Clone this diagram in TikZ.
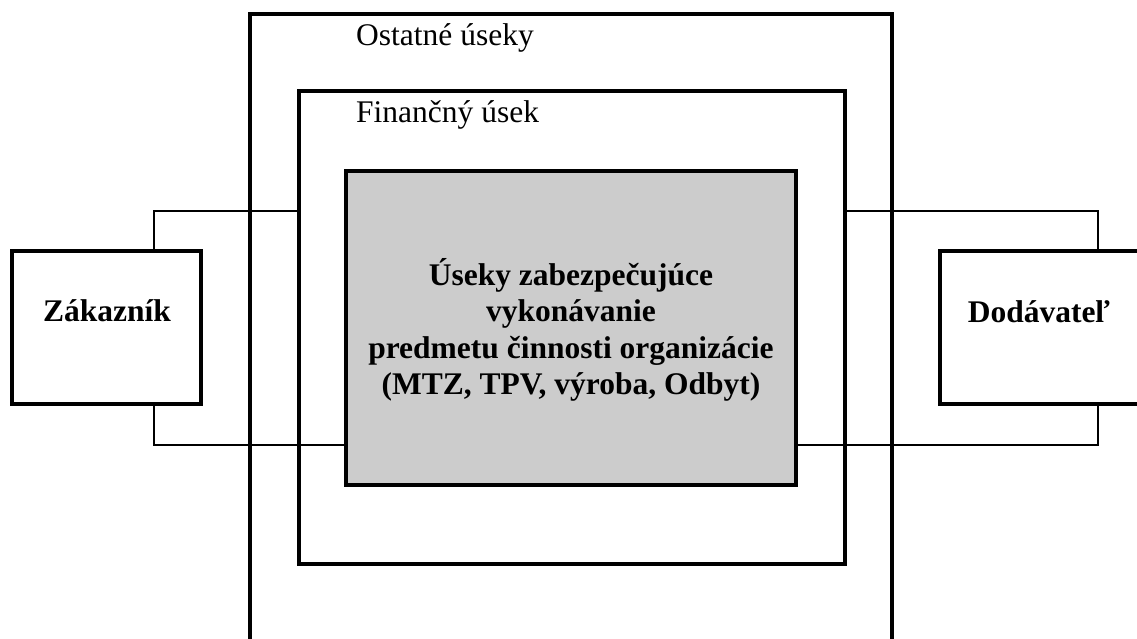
\documentclass[tikz,border=0pt]{standalone}
\usepackage{fontspec}
\setmainfont{Liberation Serif}
\definecolor{coregray}{RGB}{204,204,204}
\begin{document}
\begin{tikzpicture}[x=1pt,y=-1pt,
  box/.style={draw, line width=4.8pt, rectangle, inner sep=0pt},
  conn/.style={line width=2pt},
  lbl/.style={font=\fontsize{31.5}{36.5}\selectfont, inner sep=0pt},
  blbl/.style={font=\fontsize{31.5}{36.5}\selectfont\bfseries, inner sep=0pt}]
\useasboundingbox (0,0) rectangle (1137,639);
\clip (0,0) rectangle (1137,639);
% boxes
\node[box, minimum width=642pt, minimum height=686pt] (outer) at (571,357) {};
\node[box, minimum width=546pt, minimum height=473pt] (fin) at (572,327.5) {};
\node[box, fill=coregray, minimum width=450pt, minimum height=314pt] (core) at (571,328) {};
\node[box, minimum width=189pt, minimum height=153pt] (zak) at (106.5,327.5) {};
\node[box, minimum width=202pt, minimum height=153pt] (dod) at (1041,327.5) {};
% texts
\node[lbl, anchor=base west] (ost) at (356,46) {Ostatné úseky};
\node[lbl, anchor=base west] (fintext) at (356,123) {Finančný úsek};
\node[blbl, align=center] (coretext) at (571,330) {Úseky zabezpečujúce\\vykonávanie\\predmetu činnosti organizácie\\(MTZ, TPV, výroba, Odbyt)};
\node[blbl, anchor=base] (zaktext) at (107,321) {Zákazník};
\node[blbl, anchor=base] (dodtext) at (1039,322) {Dodávateľ};
% connectors
\coordinate (lt) at (154,211);
\coordinate (lb) at (154,445);
\coordinate (rt) at (1098,211);
\coordinate (rb) at (1098,445);
\draw[conn] (zak.north -| lt) -- (lt) -- (lt -| fin.west);
\draw[conn] (zak.south -| lb) -- (lb) -- (lb -| core.west);
\draw[conn] (fin.east |- rt) -- (rt) -- (rt |- dod.north);
\draw[conn] (core.east |- rb) -- (rb) -- (rb |- dod.south);
\end{tikzpicture}
\end{document}
